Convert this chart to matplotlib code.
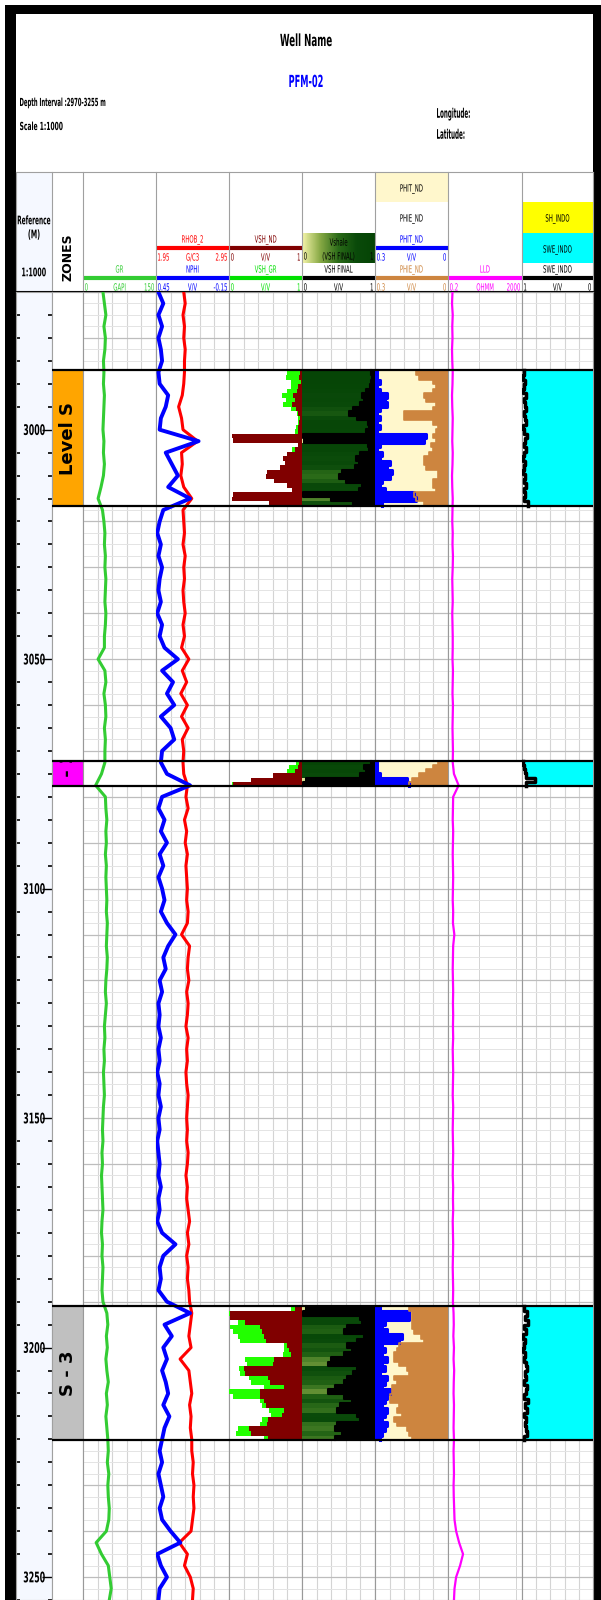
"""
Well log composite plot for PFM-02 (2970-3255 m)
"""
import numpy as np
import matplotlib
matplotlib.use("Agg")
import matplotlib.pyplot as plt
from matplotlib.colors import LinearSegmentedColormap
from matplotlib.patches import Rectangle, PathPatch
from matplotlib.textpath import TextPath
from matplotlib.font_manager import FontProperties
from matplotlib.transforms import Affine2D

plt.rcParams['font.family'] = ['DejaVu Sans']
plt.rcParams['font.stretch'] = 'condensed'

# Configuration
W, H = 601, 1600
TOP_DEPTH, BOT_DEPTH = 2970, 3255
TRACK_X = [83, 156, 229, 302, 375, 448, 522, 593]
DATA_Y0 = 292

# ---------------------------------------------------------------- data
# continuous logs, one value every 2.5 m from 2970 to 3255
LOG_STEP = 2.5
GR = [41, 44, 47, 43, 46, 45, 42,
      43, 42, 44, 43, 42, 41, 43, 42, 44, 42, 37, 31, 40,
      43, 45, 44, 46, 45, 47, 46, 45, 47, 46, 44,
      44, 31, 45, 47, 43, 46, 47, 44, 46, 45,
      45, 38, 26,
      46, 47, 49, 47, 48, 46, 48, 47, 48,
      49, 48, 50, 49, 48, 50, 49, 47, 46, 48,
      46, 44, 45, 43, 44, 42, 43, 44, 42, 41,
      40, 41, 39, 40, 38, 39, 40, 41, 39, 38, 40, 39, 41, 40, 39, 41,
      49, 51, 48, 50, 47, 49, 52, 48, 50, 47, 49, 51,
      52, 50, 53, 51, 52, 54, 53, 48, 27, 38, 52, 55, 58, 54]
NPHI = [0.43, 0.39, 0.43, 0.40, 0.43, 0.41, 0.40,
        0.43, 0.42, 0.35, 0.37, 0.41, 0.42, 0.10, 0.37, 0.32, 0.27, 0.35, 0.17, 0.39,
        0.42, 0.44, 0.41, 0.43, 0.40, 0.42, 0.43, 0.41, 0.44, 0.40, 0.42,
        0.38, 0.27, 0.40, 0.31, 0.36, 0.30, 0.41, 0.33, 0.30, 0.40,
        0.41, 0.36, 0.17,
        0.40, 0.43, 0.38, 0.41, 0.36, 0.42, 0.39, 0.43, 0.40,
        0.38, 0.41, 0.36, 0.29, 0.35, 0.39, 0.37, 0.42, 0.40, 0.43,
        0.42, 0.43, 0.41, 0.43, 0.42, 0.44, 0.42, 0.43, 0.41, 0.43,
        0.42, 0.44, 0.43, 0.42, 0.43, 0.41, 0.43, 0.42, 0.44, 0.40, 0.29, 0.39, 0.42, 0.41, 0.43, 0.36,
        0.17, 0.38, 0.32, 0.39, 0.36, 0.40, 0.37, 0.35, 0.39, 0.34, 0.38, 0.40,
        0.42, 0.40, 0.43, 0.41, 0.39, 0.42, 0.40, 0.33, 0.25, 0.44, 0.41, 0.36, 0.42, 0.43]
RHOB = [2.33, 2.35, 2.32, 2.34, 2.33, 2.35, 2.34,
        2.34, 2.33, 2.31, 2.26, 2.30, 2.32, 2.52, 2.30, 2.31, 2.29, 2.33, 2.44, 2.32,
        2.33, 2.34, 2.32, 2.35, 2.33, 2.34, 2.32, 2.33, 2.35, 2.32, 2.34,
        2.30, 2.40, 2.31, 2.37, 2.29, 2.38, 2.30, 2.39, 2.31, 2.33,
        2.32, 2.33, 2.38,
        2.36, 2.39, 2.34, 2.37, 2.35, 2.38, 2.36, 2.37, 2.38,
        2.37, 2.39, 2.38, 2.30, 2.41, 2.39, 2.38, 2.40, 2.37, 2.39,
        2.38, 2.36, 2.39, 2.37, 2.38, 2.36, 2.37, 2.39, 2.38, 2.37,
        2.38, 2.37, 2.39, 2.38, 2.36, 2.38, 2.37, 2.39, 2.41, 2.38, 2.40, 2.37, 2.39, 2.38, 2.40, 2.41,
        2.44, 2.42, 2.40, 2.43, 2.28, 2.40, 2.42, 2.44, 2.41, 2.43, 2.42, 2.44,
        2.44, 2.46, 2.45, 2.47, 2.46, 2.47, 2.45, 2.43, 2.27, 2.38, 2.34, 2.42, 2.46, 2.45]
LLD = [0.35, 0.33, 0.36, 0.34, 0.35, 0.33, 0.34,
       0.36, 0.35, 0.33, 0.34, 0.36, 0.35, 0.34, 0.36, 0.35, 0.33, 0.34, 0.36, 0.35,
       0.34, 0.36, 0.35, 0.37, 0.36, 0.34, 0.35, 0.36, 0.34, 0.35, 0.36,
       0.36, 0.35, 0.37, 0.36, 0.35, 0.37, 0.36, 0.35, 0.36, 0.37,
       0.36, 0.42, 0.75,
       0.38, 0.37, 0.36, 0.38, 0.37, 0.36, 0.37, 0.38, 0.37,
       0.36, 0.38, 0.37, 0.44, 0.38, 0.37, 0.36, 0.37, 0.38, 0.37,
       0.38, 0.37, 0.38, 0.36, 0.37, 0.38, 0.37, 0.36, 0.38, 0.37,
       0.36, 0.37, 0.38, 0.37, 0.36, 0.38, 0.37, 0.38, 0.36, 0.37, 0.38, 0.37, 0.36, 0.37, 0.38, 0.37,
       0.40, 0.41, 0.39, 0.42, 0.40, 0.43, 0.41, 0.40, 0.42, 0.41, 0.40, 0.42,
       0.40, 0.41, 0.42, 0.40, 0.41, 0.43, 0.45, 0.55, 0.80, 1.30, 0.90, 0.55, 0.45, 0.42]

# zones
ZONE_NAMES = ['Level S', 'S - 2', 'S - 3']
ZONE_TOPS = [2987.1, 3072.1, 3191.0]
ZONE_BOTS = [3016.6, 3077.7, 3220.2]
ZONE_COLORS = ['#ffa500', '#ff00ff', '#c0c0c0']

# interpreted curves inside each zone, 1 m blocks from zone top
VSH_ND = [
    [0.97, 0.96, 0.98, 0.95, 0.93, 0.88, 0.90, 0.86, 0.92, 0.95, 0.97, 0.96, 0.95, 0.94, 0.04,
     0.06, 0.95, 0.90, 0.80, 0.74, 0.77, 0.70, 0.52, 0.50, 0.62, 0.80, 0.86, 0.05, 0.04, 0.55],
    [0.96, 0.95, 0.90, 0.60, 0.30, 0.06],
    [0.90, 0.02, 0.02, 0.22, 0.43, 0.45, 0.48, 0.50, 0.80, 0.82, 0.85, 0.62, 0.60, 0.20, 0.22,
     0.54, 0.56, 0.75, 0.43, 0.42, 0.48, 0.50, 0.75, 0.72, 0.54, 0.52, 0.27, 0.30, 0.54]]
VSH_GR = [
    [0.80, 0.78, 0.85, 0.85, 0.80, 0.72, 0.78, 0.74, 0.85, 0.93, 0.95, 0.94, 0.92, 0.90, 0.88,
     0.90, 0.94, 0.86, 0.84, 0.88, 0.90, 0.85, 0.80, 0.78, 0.86, 0.92, 0.90, 0.40, 0.25, 0.60],
    [0.92, 0.82, 0.80, 0.85, 0.50, 0.04],
    [0.85, 0.00, 0.05, 0.12, 0.02, 0.05, 0.12, 0.15, 0.75, 0.75, 0.74, 0.22, 0.25, 0.14, 0.15,
     0.27, 0.30, 0.48, 0.00, 0.05, 0.43, 0.45, 0.55, 0.58, 0.45, 0.43, 0.12, 0.10, 0.48]]
VSH_FINAL = [
    [0.95, 0.96, 0.94, 0.93, 0.88, 0.82, 0.85, 0.80, 0.70, 0.65, 0.75, 0.90, 0.92, 0.88, 0.02,
     0.03, 0.90, 0.92, 0.80, 0.74, 0.78, 0.72, 0.55, 0.50, 0.60, 0.82, 0.78, 0.02, 0.40, 0.70],
    [0.95, 0.85, 0.88, 0.80, 0.05, 0.02],
    [0.05, 0.02, 0.80, 0.82, 0.62, 0.58, 0.85, 0.75, 0.62, 0.68, 0.58, 0.40, 0.35, 0.75, 0.70,
     0.62, 0.58, 0.45, 0.35, 0.58, 0.68, 0.52, 0.48, 0.75, 0.80, 0.48, 0.45, 0.55, 0.45]]
PHIT = [
    [0.29, 0.29, 0.28, 0.29, 0.28, 0.25, 0.26, 0.25, 0.28, 0.29, 0.28, 0.29, 0.28, 0.29, 0.09,
     0.10, 0.28, 0.29, 0.27, 0.28, 0.24, 0.25, 0.23, 0.24, 0.27, 0.28, 0.26, 0.14, 0.13, 0.27],
    [0.29, 0.29, 0.29, 0.28, 0.17, 0.16],
    [0.28, 0.16, 0.16, 0.26, 0.27, 0.25, 0.19, 0.20, 0.27, 0.26, 0.27, 0.25, 0.27, 0.26, 0.28,
     0.25, 0.26, 0.27, 0.24, 0.25, 0.26, 0.27, 0.25, 0.26, 0.27, 0.25, 0.26, 0.27, 0.28]]
PHIE = [
    [0.13, 0.12, 0.06, 0.05, 0.06, 0.10, 0.09, 0.05, 0.06, 0.18, 0.18, 0.06, 0.04, 0.05, 0.06,
     0.05, 0.07, 0.06, 0.08, 0.10, 0.10, 0.09, 0.04, 0.04, 0.06, 0.06, 0.05, 0.14, 0.13, 0.10],
    [0.04, 0.06, 0.09, 0.12, 0.15, 0.16],
    [0.16, 0.15, 0.15, 0.15, 0.15, 0.14, 0.11, 0.10, 0.20, 0.21, 0.22, 0.22, 0.20, 0.17, 0.16,
     0.22, 0.21, 0.23, 0.23, 0.24, 0.24, 0.20, 0.21, 0.19, 0.22, 0.21, 0.17, 0.16, 0.15]]
SWE = [
    [0.97, 0.98, 0.96, 0.97, 0.98, 0.95, 0.97, 0.96, 0.94, 0.97, 0.96, 0.95, 0.98, 0.97, 0.93,
     0.96, 0.97, 0.95, 0.97, 0.98, 0.96, 0.97, 0.98, 0.96, 0.97, 0.95, 0.97, 0.96, 0.97, 0.92],
    [0.98, 0.97, 0.96, 0.95, 0.82, 0.95],
    [0.97, 0.93, 0.96, 0.92, 0.97, 0.95, 0.98, 0.96, 0.97, 0.98, 0.96, 0.97, 0.95, 0.93, 0.96,
     0.94, 0.97, 0.93, 0.95, 0.97, 0.92, 0.96, 0.93, 0.97, 0.94, 0.96, 0.95, 0.93, 0.97]]

DEPTH_LABELS = [3000, 3050, 3100, 3150, 3200, 3250]

VSH_CMAP = LinearSegmentedColormap.from_list(
    'vshale', ['#f4f4a8', '#86a844', '#2a6a18', '#0a4a0a', '#054405'])


def rect(x0, y0, x1, y1):
    """Pixel box (top-left origin) to figure fraction."""
    return [x0 / W, 1 - y1 / H, (x1 - x0) / W, (y1 - y0) / H]


def steps(top, bot, vals):
    """Blocky curve: repeat values over equal depth intervals."""
    edges = np.linspace(top, bot, len(vals) + 1)
    return np.repeat(edges, 2)[1:-1], np.repeat(vals, 2), edges


def curve_axis(host, lo, hi, log=False):
    a = host.twiny()
    if log:
        a.set_xscale('log')
    a.set_xlim(lo, hi)
    a.set_ylim(BOT_DEPTH, TOP_DEPTH)
    a.axis('off')
    return a


fig = plt.figure(figsize=(W / 100, H / 100), dpi=100)
log_depth = TOP_DEPTH + LOG_STEP * np.arange(len(GR))


def narrow_text(ax, x, y, s, size, color='black', ha='center', sx=0.6, weight='bold'):
    """Horizontally squeezed text, like the narrow font of the log header."""
    fp = FontProperties(family='DejaVu Sans', weight=weight, stretch='condensed')
    tp = TextPath((0, 0), s, size=size, prop=fp)
    bb = tp.get_extents()
    ox = {'left': -bb.x0, 'right': -bb.x1, 'center': -(bb.x0 + bb.x1) / 2}[ha]
    X, Y = ax.transData.transform((x, y))
    k = fig.dpi / 72
    tr = Affine2D().translate(ox, -0.36 * size).scale(sx * k, k).translate(X, Y)
    fig.add_artist(PathPatch(tp, transform=tr, fc=color, lw=0, zorder=5))


# ---------------------------------------------------------------- header
hdr = fig.add_axes([0, 0, 1, 1])
hdr.axis('off')
hdr.set_xlim(0, W)
hdr.set_ylim(H, 0)
hdr.add_patch(Rectangle((16, 172), 36, 120, color='#f5f8ff', lw=0))

narrow_text(hdr, 306, 40, 'Well Name', 12, sx=0.58)
narrow_text(hdr, 306, 81, 'PFM-02', 12, color='#0000ff', sx=0.55)
narrow_text(hdr, 20, 102, 'Depth Interval :2970-3255 m', 8, ha='left', sx=0.53)
narrow_text(hdr, 20, 126, 'Scale 1:1000', 8, ha='left', sx=0.6)
narrow_text(hdr, 437, 113, 'Longitude:', 9.5, ha='left', sx=0.47)
narrow_text(hdr, 437, 134, 'Latitude:', 9.5, ha='left', sx=0.47)

narrow_text(hdr, 34, 220, 'Reference', 8.5, sx=0.55)
narrow_text(hdr, 34, 234, '(M)', 8.5, sx=0.6)
narrow_text(hdr, 34, 272, '1:1000', 8.5, sx=0.6)
hdr.text(68, 257, 'ZONES', ha='center', va='center', rotation=90, fontsize=9,
         fontweight='bold', fontstretch='normal')

# coloured boxes
hdr.add_patch(Rectangle((375, 172), 73, 30, color='#fff7cc', lw=0))
hdr.add_patch(Rectangle((522, 202), 71, 31, color='#ffff00', lw=0))
hdr.add_patch(Rectangle((522, 233), 71, 30, color='#00ffff', lw=0))
grad = np.linspace(0, 1, 100).reshape(1, -1)
hdr.imshow(grad, cmap=VSH_CMAP, extent=[302, 375, 263, 233], aspect='auto')
hdr.set_xlim(0, W)
hdr.set_ylim(H, 0)

LBL = 7.2
narrow_text(hdr, 411.5, 188, 'PHIT_ND', LBL, sx=0.6, weight='normal')
narrow_text(hdr, 411.5, 218, 'PHIE_ND', LBL, sx=0.6, weight='normal')
narrow_text(hdr, 557.5, 218, 'SH_INDO', LBL, sx=0.6, weight='normal')
narrow_text(hdr, 557.5, 249, 'SWE_INDO', LBL, sx=0.6, weight='normal')
narrow_text(hdr, 338.5, 242, 'Vshale', LBL, sx=0.6, weight='normal')
narrow_text(hdr, 304, 256, '0', LBL, ha='left', sx=0.6, weight='normal')
narrow_text(hdr, 338.5, 256, '(VSH FINAL)', LBL, sx=0.6, weight='normal')
narrow_text(hdr, 373, 256, '1', LBL, ha='right', sx=0.6, weight='normal')


def hdr_curve(track, y, name, color, lo, unit, hi):
    x0, x1 = TRACK_X[track], TRACK_X[track + 1]
    xm = (x0 + x1) / 2
    narrow_text(hdr, xm, y, name, LBL, color=color, sx=0.6, weight='normal')
    hdr.plot([x0, x1], [y + 9, y + 9], color=color, lw=3, solid_capstyle='butt')
    narrow_text(hdr, x0 + 2, y + 18, lo, LBL, color=color, ha='left', sx=0.6, weight='normal')
    narrow_text(hdr, xm, y + 18, unit, LBL, color=color, sx=0.6, weight='normal')
    narrow_text(hdr, x1 - 2, y + 18, hi, LBL, color=color, ha='right', sx=0.6, weight='normal')


hdr_curve(0, 269, 'GR', '#33cc33', '0', 'GAPI', '150')
hdr_curve(1, 239, 'RHOB_2', '#ff0000', '1.95', 'G/C3', '2.95')
hdr_curve(1, 269, 'NPHI', '#0000ff', '0.45', 'V/V', '-0.15')
hdr_curve(2, 239, 'VSH_ND', '#800000', '0', 'V/V', '1')
hdr_curve(2, 269, 'VSH_GR', '#00e000', '0', 'V/V', '1')
hdr_curve(3, 269, 'VSH FINAL', '#000000', '0', 'V/V', '1')
hdr_curve(4, 239, 'PHIT_ND', '#0000ff', '0.3', 'V/V', '0')
hdr_curve(4, 269, 'PHIE_ND', '#cd853f', '0.3', 'V/V', '0')
hdr_curve(5, 269, 'LLD', '#ff00ff', '0.2', 'OHMM', '2000')
hdr_curve(6, 269, 'SWE_INDO', '#000000', '1', 'V/V', '0')

for x in [16, 52] + TRACK_X:
    hdr.plot([x, x], [172, 292], color='#a0a0a0', lw=0.8)
hdr.plot([16, 593], [172, 172], color='#a0a0a0', lw=0.8)
hdr.plot([16, 593], [292, 292], color='black', lw=1.5)

# black frame
hdr.add_patch(Rectangle((5, 5), 11, 1595, color='black', lw=0))
hdr.add_patch(Rectangle((5, 5), 596, 9, color='black', lw=0))
hdr.add_patch(Rectangle((593, 5), 8, 1595, color='black', lw=0))

# ---------------------------------------------------------------- depth column
ax_ref = fig.add_axes(rect(16, DATA_Y0, 52, H))
ax_ref.set_facecolor('#f5f8ff')
ax_ref.set_xlim(0, 1)
ax_ref.set_ylim(BOT_DEPTH, TOP_DEPTH)
ax_ref.set_xticks([])
ax_ref.set_yticks(DEPTH_LABELS)
ax_ref.set_yticks(np.arange(2975, BOT_DEPTH + 1, 5), minor=True)
ax_ref.tick_params(which='major', left=False, right=True, direction='in', length=7,
                   width=1, labelleft=False)
ax_ref.tick_params(which='minor', left=True, right=True, direction='in', length=3, width=1.2)
for s in ax_ref.spines.values():
    s.set_color('#a0a0a0')
for d in DEPTH_LABELS:
    narrow_text(ax_ref, 0.8, d, str(d), 10.5, ha='right', sx=0.6)

# ---------------------------------------------------------------- zones column
ax_z = fig.add_axes(rect(52, DATA_Y0, 83, H))
ax_z.set_xlim(0, 1)
ax_z.set_ylim(BOT_DEPTH, TOP_DEPTH)
ax_z.set_xticks([])
ax_z.set_yticks([])
for s in ax_z.spines.values():
    s.set_color('#a0a0a0')
for name, top, bot, c in zip(ZONE_NAMES, ZONE_TOPS, ZONE_BOTS, ZONE_COLORS):
    span = ax_z.axhspan(top, bot, color=c, lw=0)
    t = ax_z.text(0.5, (top + bot) / 2, name, rotation=90, ha='center', va='center',
                  fontsize=13, fontweight='bold', fontstretch='normal', clip_on=True)
    t.set_clip_path(span)

# ---------------------------------------------------------------- tracks
hosts = []
for i in range(7):
    ax = fig.add_axes(rect(TRACK_X[i], DATA_Y0, TRACK_X[i + 1], H))
    ax.set_ylim(BOT_DEPTH, TOP_DEPTH)
    if i == 5:
        ax.set_xscale('log')
        ax.set_xlim(0.2, 2000)
        ax.grid(axis='x', which='both', color='#d4d4d4', lw=0.7)
    else:
        ax.set_xlim(0, 1)
        ax.set_xticks(np.linspace(0, 1, 6))
        ax.grid(axis='x', color='#d4d4d4', lw=0.8)
    ax.set_yticks(np.arange(TOP_DEPTH, BOT_DEPTH + 1, 10))
    ax.set_yticks(np.arange(TOP_DEPTH, BOT_DEPTH + 1, 2.5), minor=True)
    ax.grid(axis='y', which='major', color='#bdbdbd', lw=0.9)
    ax.grid(axis='y', which='minor', color='#e4e4e4', lw=0.7)
    ax.set_axisbelow(True)
    ax.tick_params(which='both', length=0, labelbottom=False, labelleft=False)
    for s in ax.spines.values():
        s.set_color('#999999')
    for top, bot in zip(ZONE_TOPS, ZONE_BOTS):
        ax.axhspan(top, bot, color='white', lw=0, zorder=1)
    hosts.append(ax)

# track 1: GR
a = curve_axis(hosts[0], 0, 150)
a.plot(GR, log_depth, color='#33cc33', lw=2.2)

# track 2: RHOB / NPHI
a = curve_axis(hosts[1], 1.95, 2.95)
a.plot(RHOB, log_depth, color='#ff0000', lw=2.2)
a = curve_axis(hosts[1], 0.45, -0.15)
a.plot(NPHI, log_depth, color='#0000ff', lw=2.8)

# track 6: LLD
a = curve_axis(hosts[5], 0.2, 2000, log=True)
a.plot(LLD, log_depth, color='#ff00ff', lw=1.6)

a3 = curve_axis(hosts[2], 0, 1)
a4 = curve_axis(hosts[3], 0, 1)
a5 = curve_axis(hosts[4], 0.3, 0)
a7 = curve_axis(hosts[6], 1, 0)
for z, (top, bot) in enumerate(zip(ZONE_TOPS, ZONE_BOTS)):
    # track 3: shale volumes
    d, v, _ = steps(top, bot, VSH_GR[z])
    a3.fill_betweenx(d, v, 1, color='#22ff00', lw=0)
    d, v, _ = steps(top, bot, VSH_ND[z])
    a3.fill_betweenx(d, v, 1, color='#800000', lw=0)

    # track 4: final Vshale, colour by value
    d, v, edges = steps(top, bot, VSH_FINAL[z])
    for k, val in enumerate(VSH_FINAL[z]):
        a4.fill_betweenx([edges[k], edges[k + 1]], 0, val, color=VSH_CMAP(val), lw=0)
    a4.fill_betweenx(d, v, 1, color='black', lw=0)
    a4.plot(v, d, color='black', lw=1.5)

    # track 5: porosity
    d, v, _ = steps(top, bot, PHIT[z])
    a5.fill_betweenx(d, v, 0, color='#fff7cc', lw=0)
    a5.fill_betweenx(d, 0.3, v, color='#0000ff', lw=0)
    a5.plot(v, d, color='#0000ff', lw=2.2)
    d, v, _ = steps(top, bot, PHIE[z])
    a5.fill_betweenx(d, v, 0, color='#cd853f', lw=0)
    a5.plot(v, d, color='#cd853f', lw=1.2)

    # track 7: water saturation
    d, v, _ = steps(top, bot, SWE[z])
    a7.fill_betweenx(d, v, 0, color='#00ffff', lw=0)
    a7.plot(v, d, color='black', lw=2.5)

# zone boundaries across all tracks
ax_ln = fig.add_axes(rect(52, DATA_Y0, 593, H))
ax_ln.set_ylim(BOT_DEPTH, TOP_DEPTH)
ax_ln.axis('off')
for top, bot in zip(ZONE_TOPS, ZONE_BOTS):
    ax_ln.axhline(top, color='black', lw=1.6)
    ax_ln.axhline(bot, color='black', lw=1.6)

fig.savefig('out.png', dpi=100)
